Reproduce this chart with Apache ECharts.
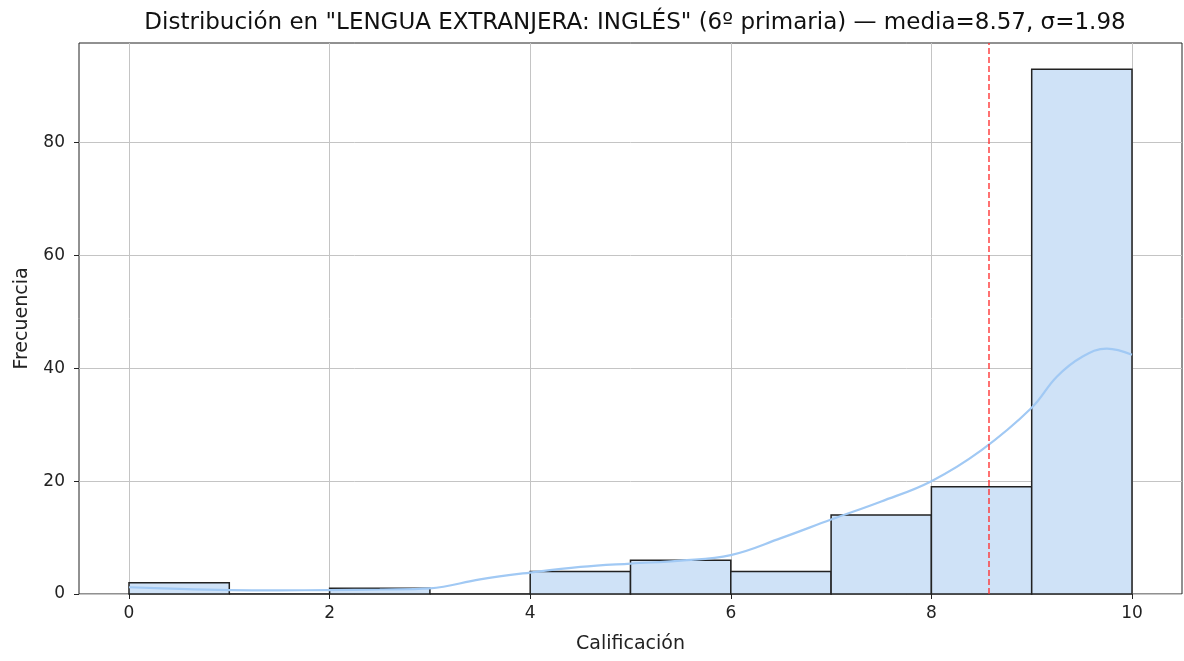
<!DOCTYPE html>
<html>
<head>
<meta charset="utf-8">
<script src="https://cdn.jsdelivr.net/npm/echarts@6/dist/echarts.min.js"></script>
<style>
  html, body { margin: 0; padding: 0; background: #fff; }
  #chart { width: 1184px; height: 661px; }
</style>
</head>
<body>
<div id="chart"></div>
<script>
// datos del histograma (bins de ancho 1)
var binStart = [0, 1, 2, 3, 4, 5, 6, 7, 8, 9];
var counts = [2, 0, 1, 0, 4, 6, 4, 14, 19, 93];
// curva KDE
var kdeX = [0, 0.5, 1, 1.5, 2, 2.5, 3, 3.5, 4, 4.5, 5, 5.5, 6, 6.5, 7, 7.5, 8, 8.5, 9, 9.25, 9.5, 9.75, 10];
var kdeY = [1.2, 0.9, 0.7, 0.65, 0.7, 0.8, 1.0, 2.6, 3.8, 4.8, 5.4, 5.9, 6.9, 9.9, 13.2, 16.4, 20, 25.5, 33, 38.5, 42, 43.5, 42.4];
var mediaVal = 8.57;
var yTicks = [0, 20, 40, 60, 80];

var binWidth = 1;
var yMax = 93 * 1.05;
var font = "DejaVu Sans";

var chart = echarts.init(document.getElementById("chart"));

var option = {
  animation: false,
  title: {
    text: 'Distribución en "LENGUA EXTRANJERA: INGLÉS" (6º primaria) — media=8.57, σ=1.98',
    left: 630,
    textAlign: "center",
    top: 7,
    textStyle: { fontFamily: font, fontSize: 23, fontWeight: "normal", color: "#111" }
  },
  grid: [
    // marco (ejes de matplotlib con margen)
    { left: 79, right: 2, top: 43, bottom: 67, show: true, borderColor: "#222", borderWidth: 1, backgroundColor: "transparent" },
    // area de datos 0..10
    { left: 129, right: 52, top: 43, bottom: 67 }
  ],
  xAxis: [
    {
      gridIndex: 0, type: "value", min: 0, max: 1,
      axisLine: { show: false }, axisTick: { show: false },
      axisLabel: { show: false }, splitLine: { show: false }
    },
    {
      gridIndex: 1, type: "value", min: 0, max: 10, interval: 2,
      name: "Calificación", nameLocation: "middle", nameGap: 41,
      nameTextStyle: { fontFamily: font, fontSize: 19, color: "#222" },
      axisLine: { show: false },
      axisTick: { show: true, length: 5, lineStyle: { color: "#222" } },
      axisLabel: { fontFamily: font, fontSize: 17, color: "#222", margin: 11 },
      splitLine: { show: true, lineStyle: { color: "#c4c4c4", width: 1 } }
    }
  ],
  yAxis: [
    {
      gridIndex: 0, type: "value", min: 0, max: yMax,
      name: "Frecuencia", nameLocation: "middle", nameGap: 47,
      nameTextStyle: { fontFamily: font, fontSize: 19, color: "#222" },
      axisLine: { show: false },
      axisTick: { show: true, length: 5, customValues: yTicks, lineStyle: { color: "#222" } },
      axisLabel: { fontFamily: font, fontSize: 17, color: "#222", margin: 14, customValues: yTicks },
      splitLine: { show: true, lineStyle: { color: "#c4c4c4", width: 1 } }
    },
    {
      gridIndex: 1, type: "value", min: 0, max: yMax,
      axisLine: { show: false }, axisTick: { show: false },
      axisLabel: { show: false }, splitLine: { show: false }
    }
  ],
  series: [
    {
      type: "custom",
      xAxisIndex: 1,
      yAxisIndex: 1,
      data: binStart.map(function (b, i) { return [b, counts[i]]; }),
      renderItem: function (params, api) {
        var x0 = api.value(0);
        var c = api.value(1);
        var p0 = api.coord([x0, 0]);
        var p1 = api.coord([x0 + binWidth, c]);
        return {
          type: "rect",
          shape: { x: p0[0], y: p1[1], width: p1[0] - p0[0], height: p0[1] - p1[1] },
          style: { fill: "#cfe2f7", stroke: "#222", lineWidth: 1.5 }
        };
      },
      z: 2,
      markLine: {
        silent: true,
        symbol: "none",
        label: { show: false },
        lineStyle: { color: "#ff3030", type: [6, 3], width: 1.6, opacity: 0.85 },
        data: [{ xAxis: mediaVal }]
      }
    },
    {
      type: "line",
      xAxisIndex: 1,
      yAxisIndex: 1,
      data: kdeX.map(function (x, i) { return [x, kdeY[i]]; }),
      smooth: 0.4,
      showSymbol: false,
      lineStyle: { color: "#a1c9f4", width: 2.2 },
      z: 3
    }
  ]
};

chart.setOption(option);
</script>
</body>
</html>
